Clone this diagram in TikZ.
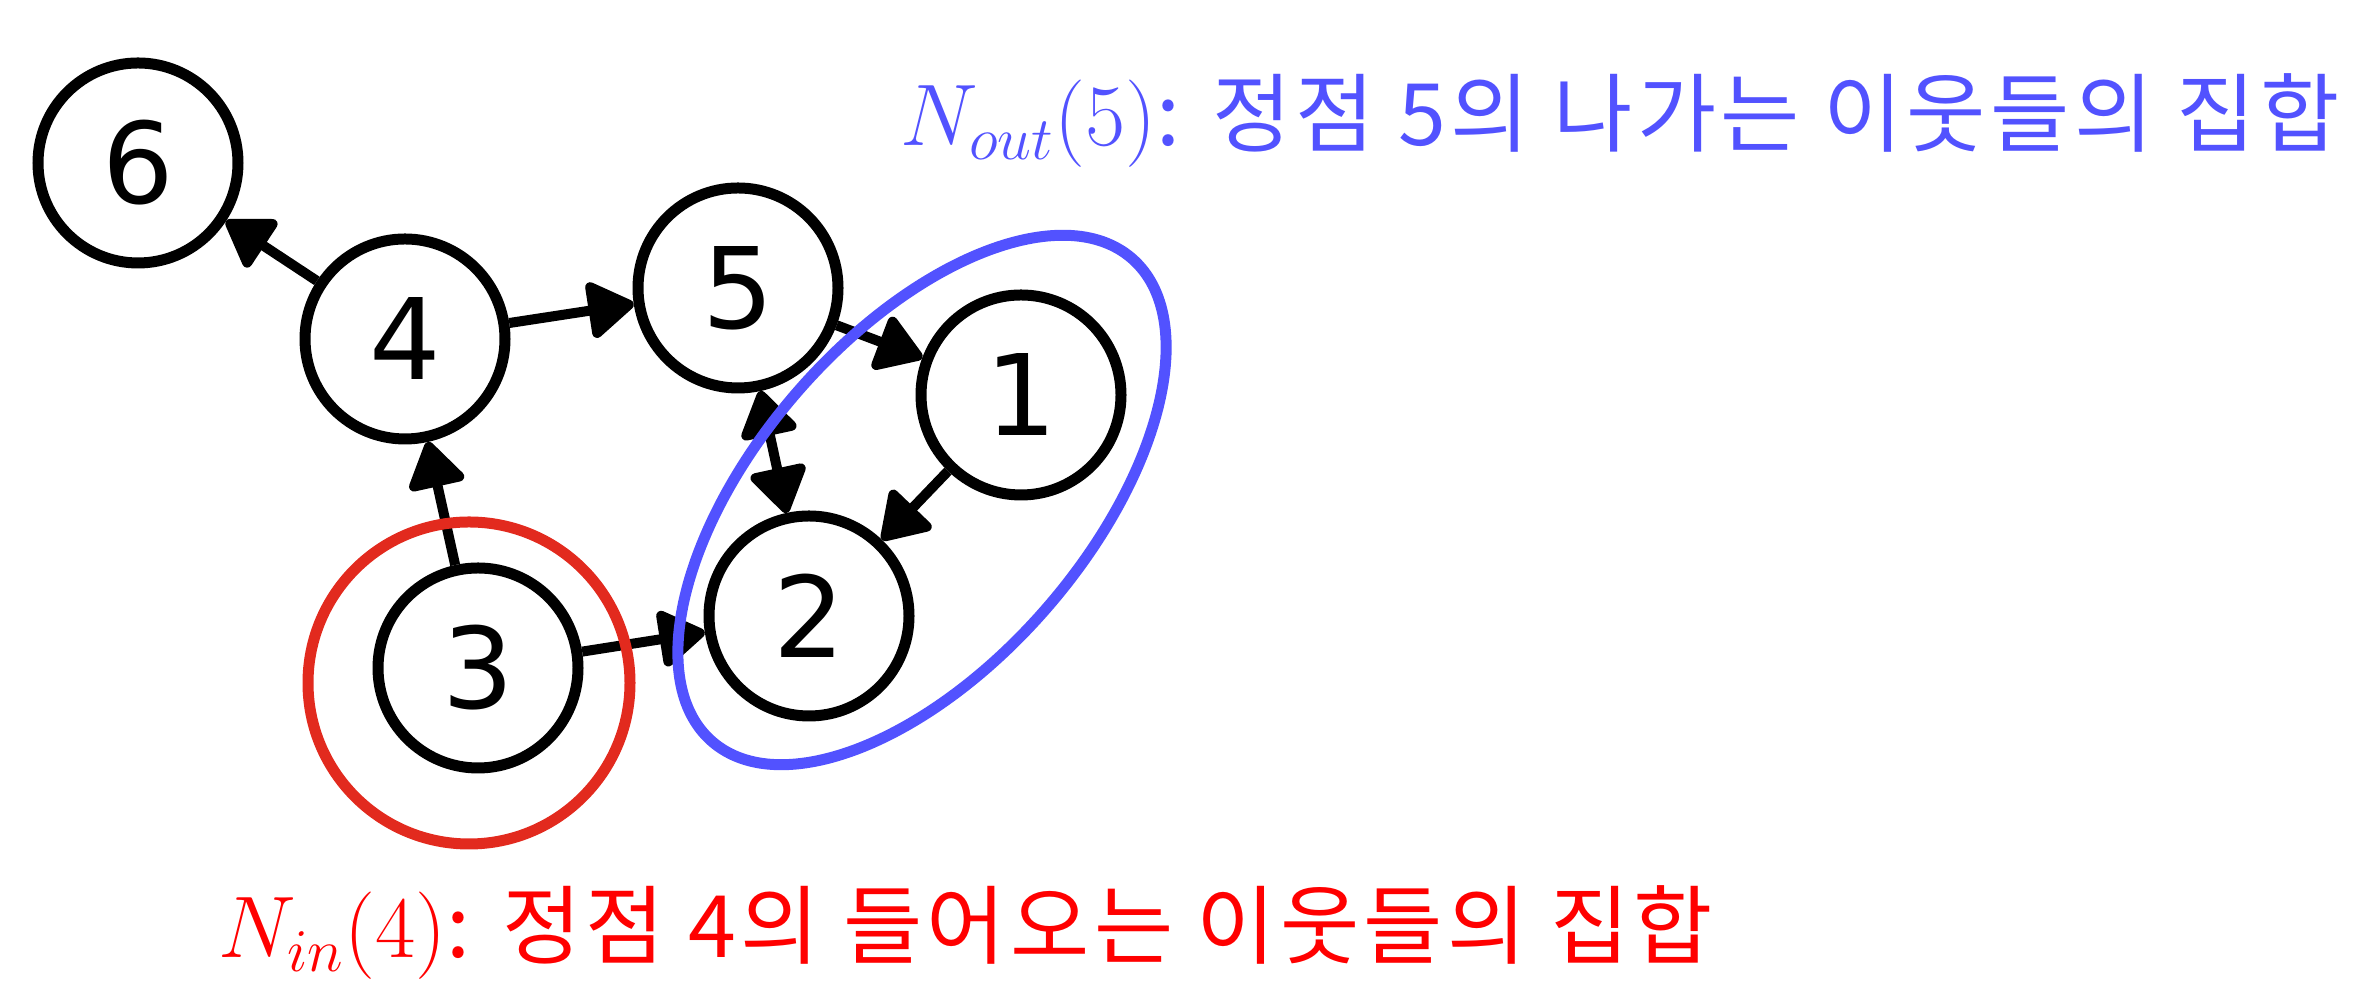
\documentclass[tikz,border=0pt]{standalone}
\usepackage{fontspec}
\setsansfont{DejaVu Sans}
\newfontfamily\kor[LetterSpace=5]{Noto Sans CJK KR}
\usepackage{tikz}
\usetikzlibrary{arrows.meta}
\definecolor{outblue}{RGB}{82,82,255}
\definecolor{inred}{RGB}{226,42,30}
\tikzset{
vertex/.style={circle,draw=black,line width=1.1mm,minimum size=20mm,inner sep=0pt,
  font=\sffamily\fontsize{32}{32}\selectfont},
arc/.style={line width=1mm,-{Triangle[length=5mm,width=6.2mm,round]}},
twoway/.style={line width=1mm,{Triangle[length=5mm,width=6.2mm,round]}-{Triangle[length=5mm,width=6.2mm,round]}},
nbr/.style={line width=1.1mm},
lbl/.style={anchor=base west,inner sep=0pt,font=\fontsize{24.5}{29}\selectfont}
}
\begin{document}
\begin{tikzpicture}
\useasboundingbox (0,0) rectangle (23.7,9.94);
\node[vertex] (n6) at (1.38,8.31) {6};
\node[vertex] (n4) at (4.05,6.55) {4};
\node[vertex] (n5) at (7.38,7.06) {5};
\node[vertex] (n1) at (10.21,5.99) {1};
\node[vertex] (n2) at (8.09,3.78) {2};
\node[vertex] (n3) at (4.78,3.26) {3};
\draw[arc] (n4) -- (n6);
\draw[arc] (n4) -- (n5);
\draw[arc] (n5) -- (n1);
\draw[twoway] (n5) -- (n2);
\draw[arc] (n1) -- (n2);
\draw[arc] (n3) -- (n4);
\draw[arc] (n3) -- (n2);
\draw[nbr,draw=inred] (4.69,3.11) circle [radius=1.61];
\draw[nbr,draw=outblue,rotate around={49:(9.22,4.94)}] (9.22,4.94) ellipse [x radius=3.2, y radius=1.65];
\node[lbl,text=outblue] (outlbl) at (9.0,8.48) {$N_{out}(5)${\kor : 정점 5의 나가는 이웃들의 집합}};
\node[lbl,text=red] (inlbl) at (2.18,0.36) {$N_{in}(4)${\kor : 정점 4의 들어오는 이웃들의 집합}};
\end{tikzpicture}
\end{document}
